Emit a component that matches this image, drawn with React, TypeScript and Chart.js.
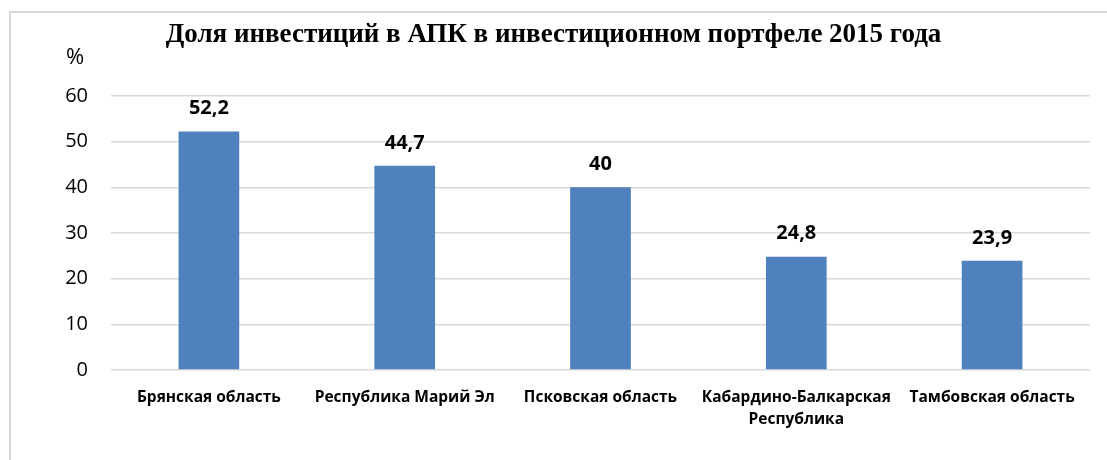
import React, { useEffect, useRef } from "react";
import { Chart, registerables } from "chart.js";

Chart.register(...registerables);

const categories: (string | string[])[] = [
  "Брянская область",
  "Республика Марий Эл",
  "Псковская область",
  ["Кабардино-Балкарская", "Республика"],
  "Тамбовская область",
];
const values: number[] = [52.2, 44.7, 40, 24.8, 23.9];
const valueLabels: string[] = ["52,2", "44,7", "40", "24,8", "23,9"];
const titleText = "Доля инвестиций в АПК в инвестиционном портфеле 2015 года";
const unitLabel = "%";

const SANS = "'Open Sans', 'Noto Sans', sans-serif";

const labelPlugin = {
  id: "valueLabels",
  afterDatasetsDraw(chart: any) {
    const ctx = chart.ctx;
    const meta = chart.getDatasetMeta(0);
    ctx.save();
    ctx.font = `bold 20px ${SANS}`;
    ctx.fillStyle = "#000";
    ctx.textAlign = "center";
    ctx.textBaseline = "middle";
    meta.data.forEach((bar: any, i: number) => {
      ctx.fillText(valueLabels[i], bar.x, bar.y - 23);
    });
    ctx.font = `22px ${SANS}`;
    ctx.fillText(unitLabel, chart.chartArea.left - 36, chart.chartArea.top - 38);
    ctx.restore();
  },
};

export default function App() {
  const ref = useRef<HTMLCanvasElement>(null);
  useEffect(() => {
    if (!ref.current) return;
    const chart = new Chart(ref.current, {
      type: "bar",
      data: {
        labels: categories,
        datasets: [
          {
            data: values,
            backgroundColor: "#4F81BD",
            categoryPercentage: 1,
            barPercentage: 0.31,
          },
        ],
      },
      options: {
        animation: false,
        responsive: false,
        layout: { padding: { left: 0, right: 17, top: 0, bottom: 0 } },
        plugins: {
          legend: { display: false },
          tooltip: { enabled: false },
          title: {
            display: true,
            text: titleText,
            color: "#000",
            font: { family: "'Liberation Serif', 'Times New Roman', serif", size: 27, weight: "bold", lineHeight: 1.2 },
            padding: { top: 19, bottom: 44.6 },
          },
        },
        scales: {
          x: {
            grid: { display: false },
            border: { display: false },
            ticks: {
              color: "#000",
              font: { family: SANS, size: 15.5, weight: "bold", lineHeight: 1.45 },
              padding: 8,
              maxRotation: 0,
              autoSkip: false,
            },
            afterFit: (s: any) => {
              s.height = 90;
            },
          },
          y: {
            min: 0,
            max: 60,
            grid: { color: "#d9d9d9", lineWidth: 1.5, drawTicks: false },
            border: { display: false },
            ticks: {
              stepSize: 10,
              color: "#000",
              font: { family: SANS, size: 20 },
              padding: 23,
            },
            afterFit: (s: any) => {
              s.width = 94;
            },
          },
        },
      },
      plugins: [labelPlugin],
    });
    return () => chart.destroy();
  }, []);

  return (
    <div style={{ position: "fixed", left: 0, top: 0, width: 1107, height: 460, background: "#fff", overflow: "hidden" }}>
      <div
        style={{
          position: "absolute",
          left: 9,
          top: 11,
          width: 1120,
          height: 470,
          border: "2px solid #d9d9d9",
        }}
      />
      <canvas
        ref={ref}
        width={1090}
        height={460}
        style={{ position: "absolute", left: 17, top: 0, width: 1090, height: 460 }}
      />
    </div>
  );
}
